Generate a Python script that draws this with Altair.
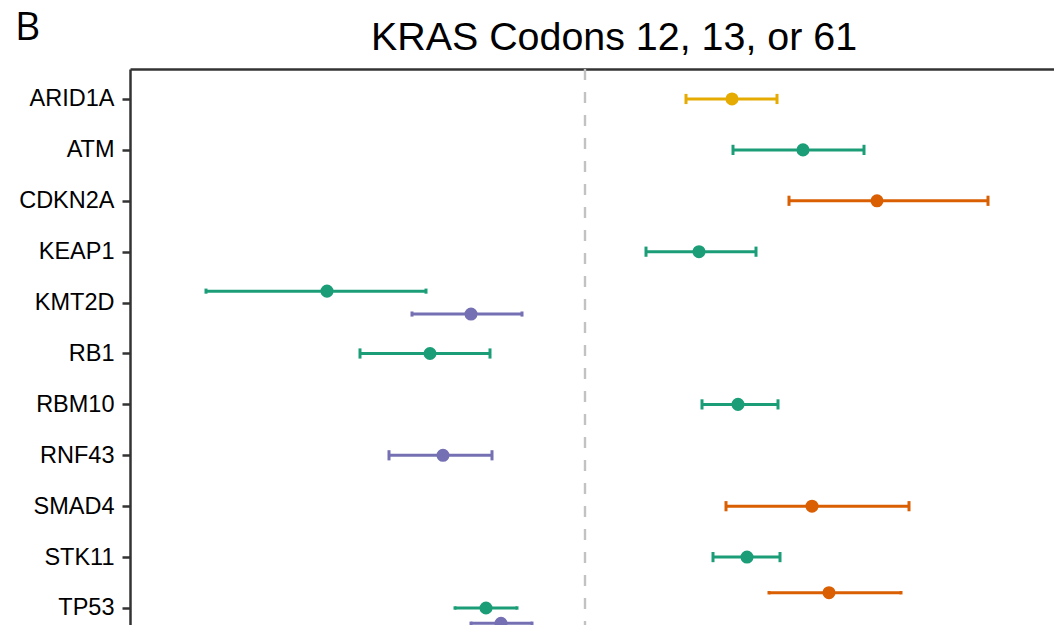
import json
import altair as alt
import pandas as pd

# ---- data ----
genes = ["ARID1A", "ATM", "CDKN2A", "KEAP1", "KMT2D", "RB1",
         "RBM10", "RNF43", "SMAD4", "STK11", "TP53"]
group_order = ["Pancreatic", "Lung", "Colorectal", "Pan-cancer"]
group_colors = ["#D95F02", "#1B9E77", "#7570B3", "#E6AB02"]

row_gene = ["ARID1A", "ATM", "CDKN2A", "KEAP1", "KMT2D", "KMT2D", "RB1",
            "RBM10", "RNF43", "SMAD4", "STK11", "TP53", "TP53", "TP53"]
row_group = ["Pan-cancer", "Lung", "Pancreatic", "Lung", "Lung", "Colorectal", "Lung",
             "Lung", "Colorectal", "Pancreatic", "Lung", "Pancreatic", "Lung", "Colorectal"]
row_est = [1.47, 2.18, 2.92, 1.14, -2.58, -1.14, -1.55,
           1.53, -1.42, 2.27, 1.62, 2.44, -0.99, -0.84]
row_lo = [1.01, 1.48, 2.04, 0.61, -3.79, -1.73, -2.25,
          1.17, -1.96, 1.41, 1.28, 1.84, -1.30, -1.14]
row_hi = [1.92, 2.79, 4.03, 1.71, -1.59, -0.63, -0.95,
          1.93, -0.93, 3.24, 1.95, 3.16, -0.68, -0.53]

title_text = "KRAS Codons 12, 13, or 61"
panel_tag = "B"

# ---- build table, dodge like ggplot position_dodge(0.9) ----
df = pd.DataFrame({"gene": row_gene, "group": row_group,
                   "est": row_est, "lo": row_lo, "hi": row_hi})
df["gidx"] = df["gene"].map({g: i for i, g in enumerate(genes)})
df["gord"] = df["group"].map({g: i for i, g in enumerate(group_order)})
df = df.sort_values(["gidx", "gord"]).reset_index(drop=True)
df["n"] = df.groupby("gene")["gene"].transform("count")
df["k"] = df.groupby("gene").cumcount()
df["ypos"] = df["gidx"] + (df["k"] - (df["n"] - 1) / 2) * 0.9 / df["n"]
df["ylo"] = df["ypos"] - 0.1 / df["n"]
df["yhi"] = df["ypos"] + 0.1 / df["n"]

W, H = 924, 556
xscale = alt.Scale(domain=[-4.55, 4.69], nice=False, zero=False)
yscale = alt.Scale(domain=[-0.589, 10.334], reverse=True, nice=False, zero=False)
cscale = alt.Scale(domain=group_order, range=group_colors)

label_expr = json.dumps(genes) + "[round(datum.value)]"

yaxis = alt.Axis(values=list(range(len(genes))), labelExpr=label_expr, title=None,
                 grid=False, domainColor="#333333", domainWidth=2.5,
                 tickColor="#333333", tickWidth=2.5, tickSize=8, labelPadding=8,
                 labelFont="Liberation Sans", labelFontSize=23.5, labelColor="#000000")
xaxis = alt.Axis(orient="top", labels=False, ticks=False, grid=False, title=None,
                 domainColor="#333333", domainWidth=2.5)

base = alt.Chart(df)

zero_line = alt.Chart(pd.DataFrame({"z": [0]})).mark_rule(
    color="#C2C2C2", strokeWidth=2.4, strokeDash=[11, 12]
).encode(x=alt.X("z:Q", scale=xscale, axis=xaxis))

bars = base.mark_rule(strokeWidth=3).encode(
    x=alt.X("lo:Q", scale=xscale, axis=xaxis), x2="hi:Q",
    y=alt.Y("ypos:Q", scale=yscale, axis=yaxis),
    color=alt.Color("group:N", scale=cscale, legend=None))

cap_lo = base.mark_rule(strokeWidth=3).encode(
    x=alt.X("lo:Q", scale=xscale),
    y=alt.Y("ylo:Q", scale=yscale), y2="yhi:Q",
    color=alt.Color("group:N", scale=cscale, legend=None))

cap_hi = base.mark_rule(strokeWidth=3).encode(
    x=alt.X("hi:Q", scale=xscale),
    y=alt.Y("ylo:Q", scale=yscale), y2="yhi:Q",
    color=alt.Color("group:N", scale=cscale, legend=None))

points = base.mark_circle(size=170, opacity=1).encode(
    x=alt.X("est:Q", scale=xscale),
    y=alt.Y("ypos:Q", scale=yscale),
    color=alt.Color("group:N", scale=cscale, legend=None))

title_mark = alt.Chart(pd.DataFrame({"t": [title_text]})).mark_text(
    font="Liberation Sans", fontSize=39.4, align="center", baseline="alphabetic",
    color="#000000"
).encode(text="t:N", x=alt.value(484), y=alt.value(-19))

tag_mark = alt.Chart(pd.DataFrame({"t": [panel_tag]})).mark_text(
    font="Open Sans", fontSize=39, align="left", baseline="alphabetic",
    color="#000000"
).encode(text="t:N", x=alt.value(-115), y=alt.value(-29))

chart = alt.layer(zero_line, bars, cap_lo, cap_hi, points, title_mark, tag_mark).properties(
    width=W, height=H,
    autosize=alt.AutoSizeParams(type="none"),
    padding={"left": 122, "top": 61, "right": 0, "bottom": 0},
    background="#ffffff",
).configure_view(stroke=None)

chart.save("out.html", embed_options={"renderer": "svg", "actions": False})
